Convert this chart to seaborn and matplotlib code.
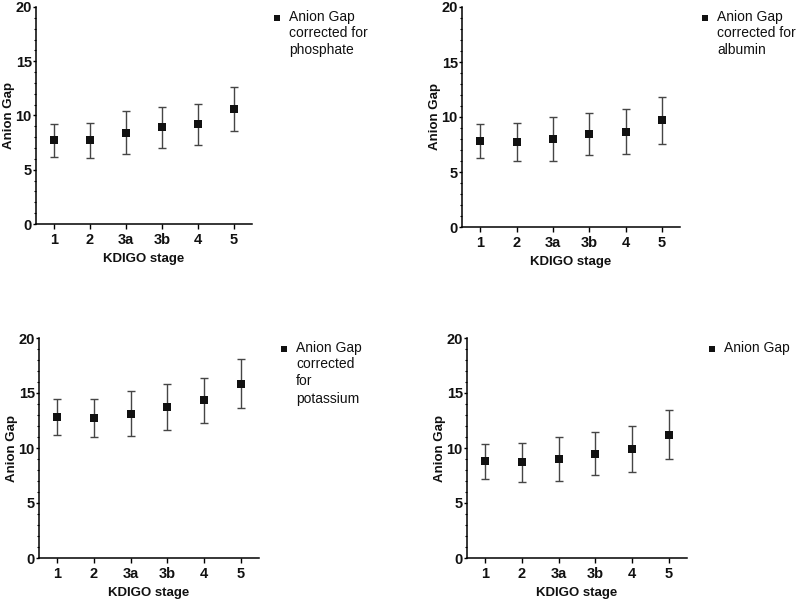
import numpy as np
import matplotlib
matplotlib.use('Agg')
import matplotlib.pyplot as plt
import seaborn as sns
from matplotlib.ticker import MultipleLocator

stages = ['1', '2', '3a', '3b', '4', '5']

# means and upper / lower ends of the error bars
phos_mean = [7.7, 7.7, 8.4, 8.9, 9.2, 10.6]
phos_hi = [9.2, 9.35, 10.4, 10.77, 11.05, 12.65]
phos_lo = [6.22, 6.06, 6.43, 7.02, 7.32, 8.55]

alb_mean = [7.8, 7.7, 8.0, 8.48, 8.67, 9.7]
alb_hi = [9.36, 9.42, 9.97, 10.39, 10.76, 11.82]
alb_lo = [6.27, 5.97, 6.03, 6.58, 6.64, 7.55]

pot_mean = [12.82, 12.7, 13.12, 13.73, 14.33, 15.82]
pot_hi = [14.45, 14.48, 15.15, 15.79, 16.39, 18.06]
pot_lo = [11.21, 10.97, 11.12, 11.64, 12.24, 13.61]

ag_mean = [8.79, 8.7, 9.0, 9.48, 9.88, 11.21]
ag_hi = [10.36, 10.45, 11.0, 11.42, 11.97, 13.45]
ag_lo = [7.21, 6.91, 6.97, 7.55, 7.79, 8.97]

labels = ['Anion Gap\ncorrected for\nphosphate',
          'Anion Gap\ncorrected for\nalbumin',
          'Anion Gap\ncorrected\nfor\npotassium',
          'Anion Gap']

sns.set_style('ticks')
plt.rcParams['font.family'] = ['Liberation Sans', 'DejaVu Sans']

fig = plt.figure(figsize=(7.98, 6), dpi=100)
W, H = 798, 600
# axes boxes in pixels: left, top, right, bottom
boxes = [(36, 7, 252, 224), (462, 7, 680, 227),
         (39, 338, 259, 558), (467, 338, 687, 558)]

panels = [(phos_mean, phos_hi, phos_lo), (alb_mean, alb_hi, alb_lo),
          (pot_mean, pot_hi, pot_lo), (ag_mean, ag_hi, ag_lo)]

for (l, t, r, b), (m, hi, lo), lab in zip(boxes, panels, labels):
    ax = fig.add_axes([l / W, 1 - b / H, (r - l) / W, (b - t) / H])
    m = np.array(m)
    yerr = [m - np.array(lo), np.array(hi) - m]
    x = np.arange(len(stages))
    ax.errorbar(x, m, yerr=yerr, fmt='none', ecolor='#454545',
                elinewidth=1.0, capsize=3.2, capthick=1.0, zorder=2)
    first, *rest = lab.split('\n')
    sns.scatterplot(x=x, y=m, marker='s', s=30, color='#111111',
                    edgecolor='#111111', linewidth=0, ax=ax, zorder=3,
                    label=first)
    ax.set_xlim(-0.5, 5.5)
    ax.set_ylim(0, 20)
    ax.set_xticks(x)
    ax.set_xticklabels(stages)
    ax.yaxis.set_major_locator(MultipleLocator(5))
    ax.yaxis.set_minor_locator(MultipleLocator(1))
    ax.tick_params(axis='both', which='major', labelsize=10.5, width=1,
                   color='black', labelcolor='#111111')
    ax.tick_params(axis='y', which='major', length=2.5, pad=0.5)
    ax.tick_params(axis='x', which='major', length=3.5, pad=3)
    ax.tick_params(axis='y', which='minor', width=0.8, length=1.8,
                   color='black')
    for tl in ax.get_xticklabels() + ax.get_yticklabels():
        tl.set_fontweight('bold')
    ax.set_xlabel('KDIGO stage', fontsize=9.5, fontweight='bold',
                  labelpad=4, color='#111111')
    ax.set_ylabel('Anion Gap', fontsize=9.5, fontweight='bold',
                  labelpad=0.5, color='#111111')
    sns.despine(ax=ax)
    for s in ['left', 'bottom']:
        ax.spines[s].set_color('black')
        ax.spines[s].set_linewidth(1.1)
    leg = ax.legend(loc='upper left', bbox_to_anchor=(1.09, 0.985),
                    frameon=False, fontsize=10, handletextpad=0.45,
                    handlelength=0.8, markerscale=0.7, borderaxespad=0,
                    borderpad=0)
    for tx in leg.get_texts():
        tx.set_color('#111111')
    if rest:
        # remaining lines of the legend label, under the first line
        ax.annotate('\n'.join(rest), xy=(0, 0), xycoords=leg.get_texts()[0],
                    xytext=(0, -1.2), textcoords='offset points',
                    ha='left', va='top', fontsize=10, color='#111111',
                    linespacing=1.32, annotation_clip=False, zorder=10)

fig.savefig('out.png', dpi=100)
